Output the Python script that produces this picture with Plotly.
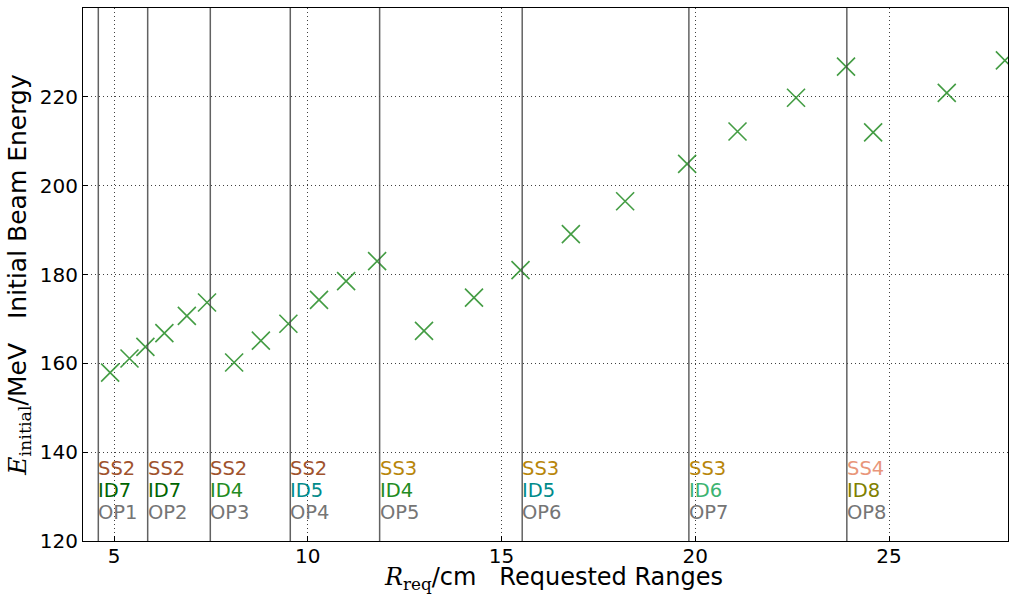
import plotly.graph_objects as go

# Requested ranges (cm) and the initial beam energies (MeV) found for them
ranges_cm = [4.90, 5.40, 5.81, 6.30, 6.88, 7.40, 8.10, 8.79, 9.50, 10.29, 10.99,
             11.79, 13.00, 14.29, 15.49, 16.79, 18.19, 19.79, 21.09, 22.60,
             23.89, 24.59, 26.49, 27.99]
energies_mev = [157.9, 161.1, 163.7, 166.8, 170.7, 173.7, 160.2, 165.1, 168.9,
                174.3, 178.5, 183.0, 167.3, 174.8, 181.0, 189.1, 196.5, 204.9,
                212.2, 219.8, 226.8, 212.0, 220.9, 228.2]

# Operating-point boundaries and their configuration labels
op_starts = [4.595, 5.869, 7.485, 9.549, 11.855, 15.534, 19.835, 23.911]
ss_labels = ["SS2", "SS2", "SS2", "SS2", "SS3", "SS3", "SS3", "SS4"]
id_labels = ["ID7", "ID7", "ID4", "ID5", "ID4", "ID5", "ID6", "ID8"]
op_labels = ["OP1", "OP2", "OP3", "OP4", "OP5", "OP6", "OP7", "OP8"]

ss_colors = {"SS2": "#a0522d", "SS3": "#b8860b", "SS4": "#e9967a"}
id_colors = {"ID4": "#228b22", "ID5": "#008b8b", "ID6": "#3cb371",
             "ID7": "#006400", "ID8": "#808000"}
op_color = "#757575"

FONT = "DejaVu Sans, Liberation Sans, sans-serif"
SERIF = "DejaVu Serif, Liberation Serif, serif"

fig = go.Figure()

fig.add_trace(go.Scatter(
    x=ranges_cm, y=energies_mev, mode="markers",
    marker=dict(symbol="x-thin-open", size=18, color="rgba(34,139,34,0.85)",
                line=dict(width=1.6, color="rgba(34,139,34,0.85)")),
    showlegend=False,
))

for x0 in op_starts:
    fig.add_vline(x=x0, line=dict(color="rgba(70,70,70,0.85)", width=1.5), layer="above")

label_rows = [(136.4, ss_labels, lambda s: ss_colors[s]),
              (131.45, id_labels, lambda s: id_colors[s]),
              (126.5, op_labels, lambda s: op_color)]
for yv, labels, colfn in label_rows:
    for x0, lab in zip(op_starts, labels):
        fig.add_annotation(x=x0, y=yv, text=lab, showarrow=False,
                           xanchor="left", yanchor="middle", xshift=-2,
                           font=dict(family=FONT, size=19.5, color=colfn(lab)))

sp = "\u00a0" * 3
# x-axis title, placed along the bottom edge of the page
fig.add_annotation(
    xref="paper", yref="paper", x=0.5, y=-0.1013, xshift=8,
    xanchor="center", yanchor="bottom", showarrow=False, borderpad=0,
    text=f"<span style='font-family:{SERIF}'><i>R</i><sub>req</sub></span>/cm{sp}Requested Ranges",
    font=dict(family=FONT, size=24, color="black"),
)

grid_style = dict(showgrid=True, gridcolor="rgba(0,0,0,0.75)", griddash="1px,3px", gridwidth=1)
fig.update_layout(
    width=1010, height=595,
    margin=dict(l=83, r=2, t=8, b=54),
    paper_bgcolor="white", plot_bgcolor="white",
    font=dict(family=FONT, size=20, color="black"),
    xaxis=dict(
        range=[4.2, 28.07], tickvals=[5, 10, 15, 20, 25], **grid_style,
        showline=True, linecolor="black", linewidth=1, mirror=True,
        ticks="inside", ticklen=5, tickcolor="black", ticklabelstandoff=-3,
        zeroline=False, tickfont=dict(size=20), automargin=False,
    ),
    yaxis=dict(
        range=[120, 240], tickvals=[120, 140, 160, 180, 200, 220], **grid_style,
        showline=True, linecolor="black", linewidth=1, mirror=True,
        ticks="inside", ticklen=5, tickcolor="black",
        zeroline=False, tickfont=dict(size=20), automargin=False,
        title=dict(text=f"<span style='font-family:{SERIF}'><i>E</i><sub>initial</sub></span>/MeV{sp}Initial Beam Energy",
                   font=dict(size=25), standoff=6),
    ),
)

fig.write_html("out.html")
